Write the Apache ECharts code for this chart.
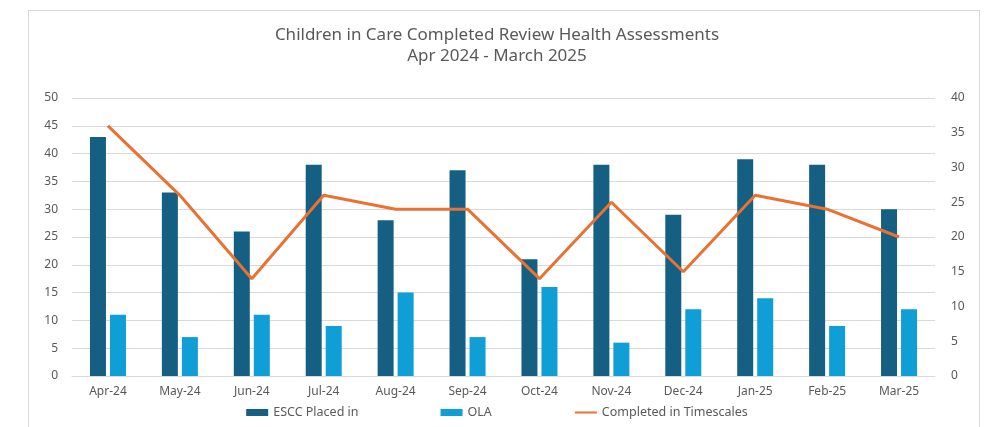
<!DOCTYPE html>
<html>
    <head>
        <meta charset="UTF-8">
        <title>Children in Care Completed Review Health Assessments</title>
        <script type="text/javascript" src="https://cdn.jsdelivr.net/npm/echarts@6/dist/echarts.min.js"></script>
    </head>
    <body style="height: 100%; margin: 0; overflow: hidden;">
        <div id="frame" style="position:absolute; left:28px; top:10px; width:952px; height:420px; border:1px solid #d9d9d9; box-sizing:border-box;"></div>
        <div id="container" style="position:absolute; left:0; top:0; width:994px; height:427px;"></div>
    </body>
    <script type="text/javascript">
        var dom = document.getElementById("container");
        var myChart = echarts.init(dom);

        // data
        var months = ['Apr-24', 'May-24', 'Jun-24', 'Jul-24', 'Aug-24', 'Sep-24',
                      'Oct-24', 'Nov-24', 'Dec-24', 'Jan-25', 'Feb-25', 'Mar-25'];
        var esccPlaced = [43, 33, 26, 38, 28, 37, 21, 38, 29, 39, 38, 30];
        var ola = [11, 7, 11, 9, 15, 7, 16, 6, 12, 14, 9, 12];
        var inTimescales = [36, 26, 14, 26, 24, 24, 14, 25, 15, 26, 24, 20];

        var txt = '#595959';
        var fontName = "'Noto Sans', sans-serif";

        var option = {
          animation: false,
          textStyle: { fontFamily: fontName },
          title: {
            text: 'Children in Care Completed Review Health Assessments\nApr 2024 - March 2025',
            left: 'center',
            top: 20,
            textStyle: {
              color: txt,
              fontSize: 17,
              fontWeight: 'normal',
              lineHeight: 21,
              fontFamily: fontName
            }
          },
          legend: {
            bottom: 3,
            left: 'center',
            itemWidth: 22,
            itemHeight: 7,
            itemGap: 82,
            textStyle: { color: txt, fontSize: 12.5 },
            data: [
              { name: 'ESCC Placed in', icon: 'rect' },
              { name: 'OLA', icon: 'rect' },
              { name: 'Completed in Timescales', itemStyle: { opacity: 0 } }
            ]
          },
          grid: {
            left: 72,
            right: 59,
            top: 98,
            bottom: 51
          },
          xAxis: {
            type: 'category',
            data: months,
            axisTick: { show: false },
            axisLine: { lineStyle: { color: '#d9d9d9' } },
            axisLabel: { color: txt, fontSize: 12, margin: 10 }
          },
          yAxis: [
            {
              type: 'value',
              min: 0,
              max: 50,
              interval: 5,
              axisLabel: { color: txt, fontSize: 12, margin: 14 },
              splitLine: { lineStyle: { color: '#d9d9d9' } }
            },
            {
              type: 'value',
              min: 0,
              max: 40,
              interval: 5,
              axisLabel: { color: txt, fontSize: 12, margin: 16 },
              splitLine: { show: false }
            }
          ],
          series: [
            {
              name: 'ESCC Placed in',
              type: 'bar',
              data: esccPlaced,
              barWidth: 16,
              barGap: '25%',
              itemStyle: { color: '#156082' }
            },
            {
              name: 'OLA',
              type: 'bar',
              data: ola,
              barWidth: 16,
              itemStyle: { color: '#0F9ED5' }
            },
            {
              name: 'Completed in Timescales',
              type: 'line',
              yAxisIndex: 1,
              data: inTimescales,
              symbol: 'none',
              lineStyle: { color: '#E97132', width: 3 },
              itemStyle: { color: '#E97132' }
            }
          ]
        };

        myChart.setOption(option);
    </script>
</html>
